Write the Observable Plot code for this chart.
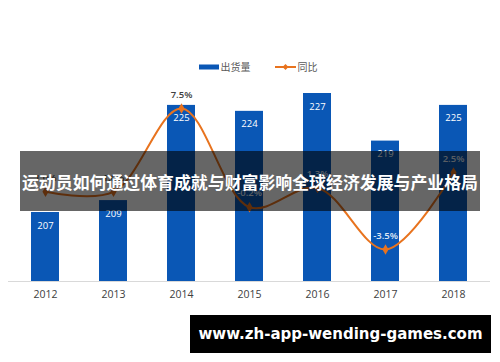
<!DOCTYPE html>
<html>
<head>
<meta charset="utf-8">
<script src="https://cdn.jsdelivr.net/npm/d3@7"></script>
<script src="https://cdn.jsdelivr.net/npm/@observablehq/plot@0.6"></script>
<style>
  html, body { margin: 0; padding: 0; background: #fff; }
  #wrap { position: relative; width: 500px; height: 362px; overflow: hidden; font-family: "Open Sans", "Noto Sans CJK SC", sans-serif; }
  .layer { position: absolute; left: 0; top: 0; }
  #legend { position: absolute; top: 59px; left: 8px; width: 500px; display: flex; justify-content: center; align-items: center; font-family: "Noto Sans CJK SC", sans-serif; font-size: 10px; color: #595959; gap: 24px; }
  #legend .item { display: flex; align-items: center; gap: 2px; }
  #banner { position: absolute; left: 20px; top: 151px; width: 460px; height: 60px; background: rgba(0,0,0,0.6); }
  #banner svg, #mark svg { display: block; overflow: visible; }
  #mark { position: absolute; left: 190px; top: 315px; width: 301px; height: 38px; background: #000; }
</style>
</head>
<body>
<div id="wrap">
  <div id="bars" class="layer"></div>
  <div id="line" class="layer"></div>
  <div id="legend"></div>
  <div id="banner"></div>
  <div id="mark"></div>
</div>
<script>
const years = ["2012", "2013", "2014", "2015", "2016", "2017", "2018"];
const shipments = [207, 209, 225, 224, 227, 219, 225];
const yoy = [1.0, 1.0, 7.5, -0.2, 1.3, -3.5, 2.5];
const yoyLabels = ["1.0%", "1.0%", "7.5%", "-0.2%", "1.3%", "-3.5%", "2.5%"];
const seriesNames = ["出货量", "同比"];
const title = "运动员如何通过体育成就与财富影响全球经济发展与产业格局";
const watermark = "www.zh-app-wending-games.com";

const barBase = 195.4;
const blue = "#0a57b5";
const orange = "#e8731e";

const data = years.map((y, i) => ({year: y, value: shipments[i], yoy: yoy[i], label: yoyLabels[i]}));
const aboveBar = new Set(["2012", "2013", "2014"]);

const xScale = {type: "band", domain: years, range: [8.67, 489.33], paddingInner: 0.59, paddingOuter: 0.295};

const barsPlot = Plot.plot({
  width: 500, height: 362,
  marginTop: 0, marginLeft: 8, marginRight: 10, marginBottom: 81,
  style: {background: "transparent", fontFamily: "'Open Sans', sans-serif"},
  x: {...xScale, label: null},
  y: {domain: [barBase, 227], range: [281, 93], axis: null},
  marks: [
    Plot.barY(data, {x: "year", y1: barBase, y2: "value", fill: blue}),
    Plot.ruleY([barBase], {stroke: "#d9d9d9", strokeWidth: 1}),
    Plot.text(data, {x: "year", y: "value", text: d => String(d.value), dy: 13, fill: "#ffffff", fontSize: 9.5}),
    Plot.axisX({tickSize: 0, tickPadding: 9, fontSize: 10.5, color: "#404040", label: null})
  ]
});
document.getElementById("bars").appendChild(barsPlot);

const linePlot = Plot.plot({
  width: 500, height: 362,
  marginTop: 0, marginLeft: 8, marginRight: 10, marginBottom: 81,
  style: {background: "transparent", fontFamily: "'Open Sans', sans-serif"},
  x: {...xScale, axis: null},
  y: {domain: [-3.5, 7.5], range: [249, 108], axis: null},
  marks: [
    Plot.line(data, {x: "year", y: "yoy", stroke: orange, strokeWidth: 2, curve: "catmull-rom"}),
    Plot.dot(data, {x: "year", y: "yoy", symbol: "diamond", r: 3.2, fill: orange}),
    Plot.text(data, {x: "year", y: "yoy", text: "label", dy: -14, fontSize: 9.5, fontWeight: 600,
      fill: d => aboveBar.has(d.year) ? "#404040" : "#dfe8f5"})
  ]
});
document.getElementById("line").appendChild(linePlot);

// legend
const legend = document.getElementById("legend");
legend.innerHTML =
  `<span class="item"><svg width="20" height="6"><rect x="0" y="0.5" width="20" height="5" fill="${blue}"/></svg><span>${seriesNames[0]}</span></span>` +
  `<span class="item"><svg width="21" height="8"><line x1="0" y1="4" x2="21" y2="4" stroke="${orange}" stroke-width="2"/><path d="M10.5 1 L13.5 4 L10.5 7 L7.5 4 Z" fill="${orange}"/></svg><span>${seriesNames[1]}</span></span>`;

// banner and watermark as SVG text
const ns = "http://www.w3.org/2000/svg";
function overlayText(container, w, h, str, fontFamily, fontSize) {
  const svg = document.createElementNS(ns, "svg");
  svg.setAttribute("width", w); svg.setAttribute("height", h);
  const t = document.createElementNS(ns, "text");
  t.setAttribute("x", w / 2); t.setAttribute("y", h / 2);
  t.setAttribute("text-anchor", "middle");
  t.setAttribute("dominant-baseline", "central");
  t.setAttribute("fill", "#fff");
  t.setAttribute("font-weight", "700");
  t.setAttribute("font-family", fontFamily);
  t.setAttribute("font-size", fontSize);
  t.textContent = str;
  svg.appendChild(t);
  container.appendChild(svg);
}
overlayText(document.getElementById("banner"), 460, 60, title, "'Noto Sans CJK SC', sans-serif", 16.9);
overlayText(document.getElementById("mark"), 301, 38, watermark, "'DejaVu Sans', sans-serif", 15);
</script>
</body>
</html>
